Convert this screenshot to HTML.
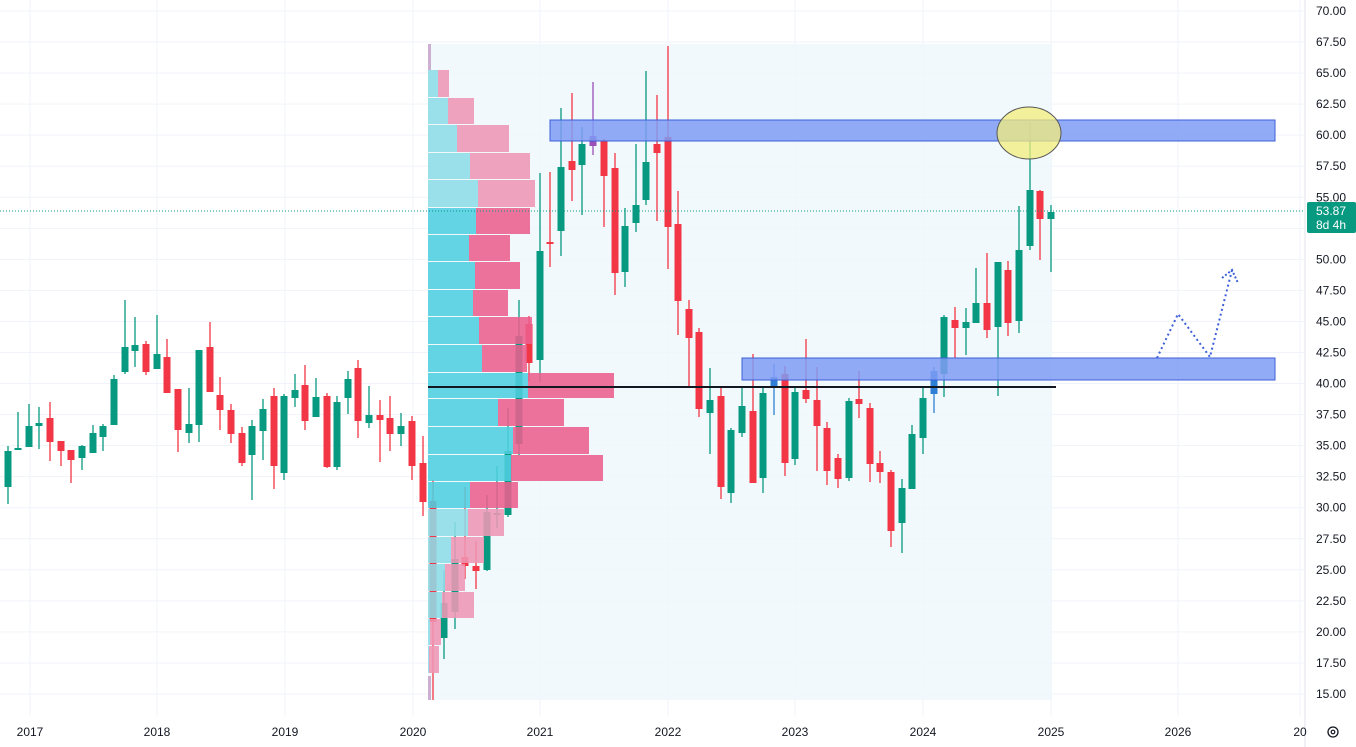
<!DOCTYPE html>
<html><head><meta charset="utf-8"><style>
html,body{margin:0;padding:0;background:#fff;}
svg{display:block;font-family:"Liberation Sans",sans-serif;}
</style></head><body>
<svg id="c" width="1356" height="747" viewBox="0 0 1356 747" xmlns="http://www.w3.org/2000/svg">
<rect width="1356" height="747" fill="#fff"/>
<g id="grid"></g>
<rect x="428" y="44" width="624" height="656" fill="#eef8fc" opacity="0.8"/>
<g id="candles"></g>
<g id="prof" opacity="0.88"></g>
<line x1="428" y1="387" x2="1056" y2="387" stroke="#131722" stroke-width="2"/>
<rect x="550" y="120" width="725" height="21" fill="#7f9cf5" fill-opacity="0.85" stroke="#3d5fd9" stroke-width="1"/>
<rect x="742" y="358" width="533" height="22" fill="#7f9cf5" fill-opacity="0.85" stroke="#3d5fd9" stroke-width="1"/>
<ellipse cx="1029" cy="133" rx="32" ry="26" fill="#f3ec7a" fill-opacity="0.75" stroke="#555" stroke-width="1"/>
<polyline points="1157,358 1178,314 1210,357 1232,270" fill="none" stroke="#3d5fd9" stroke-width="2" stroke-dasharray="2,3"/>
<polyline points="1222,278 1232,270 1238,283" fill="none" stroke="#3d5fd9" stroke-width="2" stroke-dasharray="2,2"/>
<line x1="0" y1="211" x2="1305" y2="211" stroke="#089981" stroke-width="1" stroke-dasharray="1,2"/>
<g id="axis" font-size="12" fill="#131722"></g>
<rect x="1307" y="202" width="49" height="31" fill="#089981" rx="2"/>
<text x="1316" y="215" font-size="12" fill="#fff">53.87</text>
<text x="1316" y="229" font-size="12" fill="#fff">8d 4h</text>
<circle cx="1333" cy="732" r="5" fill="none" stroke="#131722" stroke-width="1.3"/>
<circle cx="1333" cy="732" r="1.8" fill="none" stroke="#131722" stroke-width="1.2"/>
</svg>
<script>
var NS="http://www.w3.org/2000/svg";
function el(p,t,a,txt){var e=document.createElementNS(NS,t);for(var k in a)e.setAttribute(k,a[k]);if(txt)e.textContent=txt;document.getElementById(p).appendChild(e);return e;}
// grid + axis
for(var i=0;i<=22;i++){var p=70-i*2.5,y=11+i*31.045;
 el("grid","line",{x1:0,y1:y,x2:1305,y2:y,stroke:"#f0f3fa","stroke-width":1});
 el("axis","text",{x:1316,y:y+4},p.toFixed(2));}
var yrs=[[30,"2017"],[157,"2018"],[285,"2019"],[413,"2020"],[540,"2021"],[668,"2022"],[795,"2023"],[923,"2024"],[1051,"2025"],[1178,"2026"],[1300,"20"]];
yrs.forEach(function(a){el("grid","line",{x1:a[0],y1:0,x2:a[0],y2:716,stroke:"#f0f3fa","stroke-width":1});
 el("axis","text",{x:a[0],y:736,"text-anchor":"middle"},a[1]);});
el("grid","line",{x1:1305,y1:0,x2:1305,y2:747,stroke:"#e0e3eb","stroke-width":1});
// candles: x, wickTop, wickBot, bodyTop, bodyBot, color
var G="#089981",R="#f23645",B="#2f7fd6",P="#9b4fb8",GR="#7a7088";
var C=[
[8,446,504,451,487,G],[18,412,449,448,450,G],[29,404,447,426,447,G],[39,407,449,423,426,G],[50,402,461,418,442,R],
[61,441,466,441,451,R],[71,450,483,450,460,R],[82,445,470,446,458,G],[93,425,453,433,453,G],[103,424,451,426,437,G],
[114,375,425,379,425,G],[125,300,374,347,372,G],[135,317,367,345,351,G],[146,341,375,344,372,R],[157,315,369,354,369,G],
[167,339,393,357,393,R],[178,389,452,389,430,R],[189,388,443,424,433,G],[199,350,442,350,425,G],[210,322,392,347,392,R],
[220,377,430,395,410,R],[231,404,443,410,434,R],[242,427,466,433,463,R],[252,420,500,426,455,G],[263,399,460,409,431,G],
[274,388,489,396,466,R],[284,394,480,396,473,G],[295,374,407,390,398,G],[305,365,430,385,421,R],[316,378,417,397,417,G],
[327,393,468,396,467,R],[337,396,470,402,467,G],[348,371,414,379,398,G],[358,360,438,368,421,R],[369,386,428,415,423,G],
[380,400,462,415,420,R],[390,396,451,418,434,R],[401,413,446,426,434,G],[412,416,480,421,466,R],[423,436,516,463,502,R],
[433,480,700,501,622,R],[444,570,659,603,638,G],[455,522,629,559,612,G],[465,487,579,557,566,R],[476,541,589,566,571,R],
[487,495,571,512,570,G],[497,466,528,513,515,G],[508,408,517,451,515,G],[519,300,455,336,444,G],[529,316,381,324,363,R],
[540,173,382,251,360,G],[550,172,267,242,244,R],[561,108,256,167,231,G],[572,93,201,161,170,R],[582,127,215,144,165,G],
[593,82,155,136,146,P],[604,139,227,141,176,R],[615,153,295,168,273,R],[625,208,287,226,272,G],[636,144,232,205,223,G],
[646,71,205,162,200,G],[657,95,221,144,153,R],[668,46,269,137,227,R],[678,191,335,224,301,R],[689,300,387,309,338,R],
[699,328,417,332,409,R],[710,368,454,400,413,G],[721,387,499,396,487,R],[731,428,503,430,493,G],[742,387,437,406,433,G],
[753,354,483,411,483,R],[763,387,493,393,478,G],[774,364,415,377,386,B],[785,366,476,374,463,R],[795,387,465,392,459,G],
[806,339,403,390,399,R],[817,367,471,400,426,R],[827,422,485,428,471,R],[838,454,488,458,479,R],[849,398,481,401,478,G],
[859,371,418,399,404,R],[870,403,482,408,464,R],[880,451,483,463,472,R],[891,470,547,472,531,R],[902,479,553,488,523,G],
[912,425,489,434,489,G],[923,386,454,398,438,G],[934,367,413,371,394,B],[944,315,397,317,374,G],[955,307,358,320,328,R],
[966,308,355,322,328,G],[976,268,323,303,323,G],[987,253,338,303,330,R],[998,262,396,262,327,G],[1008,261,336,270,323,R],
[1019,206,333,250,321,G],[1030,122,250,190,246,G],[1040,190,260,191,219,R],[1051,205,272,212,219,G]];
C.forEach(function(c){var col=c[5];
 el("candles","line",{x1:c[0],y1:c[1],x2:c[0],y2:c[2],stroke:col,"stroke-width":1.3});
 el("candles","rect",{x:c[0]-3.5,y:c[3],width:7,height:Math.max(1.5,c[4]-c[3]),fill:col});});
// volume profile rows: top, bottom, cyanEnd, pinkEnd, dark?
var rows=[[70,98,438,449,0],[98,125,448,474,0],[125,153,457,509,0],[153,180,470,530,0],[180,208,478,535,0],
[208,235,476,530,1],[235,262,469,510,1],[262,290,475,520,1],[290,317,473,508,1],[317,345,479,532,1],[345,373,482,527,1],
[373,399,528,614,1],[399,427,498,564,1],[427,455,513,589,1],[455,482,511,603,1],[482,509,470,518,1],
[509,537,468,504,0],[537,564,451,484,0],[564,592,445,465,0],[592,619,442,474,0],[619,646,430,441,0],[646,674,429,439,0]];
rows.forEach(function(r){var h=r[1]-r[0]-1;
 el("prof","rect",{x:428,y:r[0],width:r[2]-428,height:h,fill:r[4]?"#50cfe0":"#8fdde8"});
 el("prof","rect",{x:r[2],y:r[0],width:r[3]-r[2],height:h,fill:r[4]?"#ec5f8e":"#ef97b5"});});
el("prof","rect",{x:428,y:44,width:3,height:26,fill:"#c9a6cc"});
el("prof","rect",{x:428,y:676,width:3,height:24,fill:"#c9a6cc"});
</script>
</body></html>
